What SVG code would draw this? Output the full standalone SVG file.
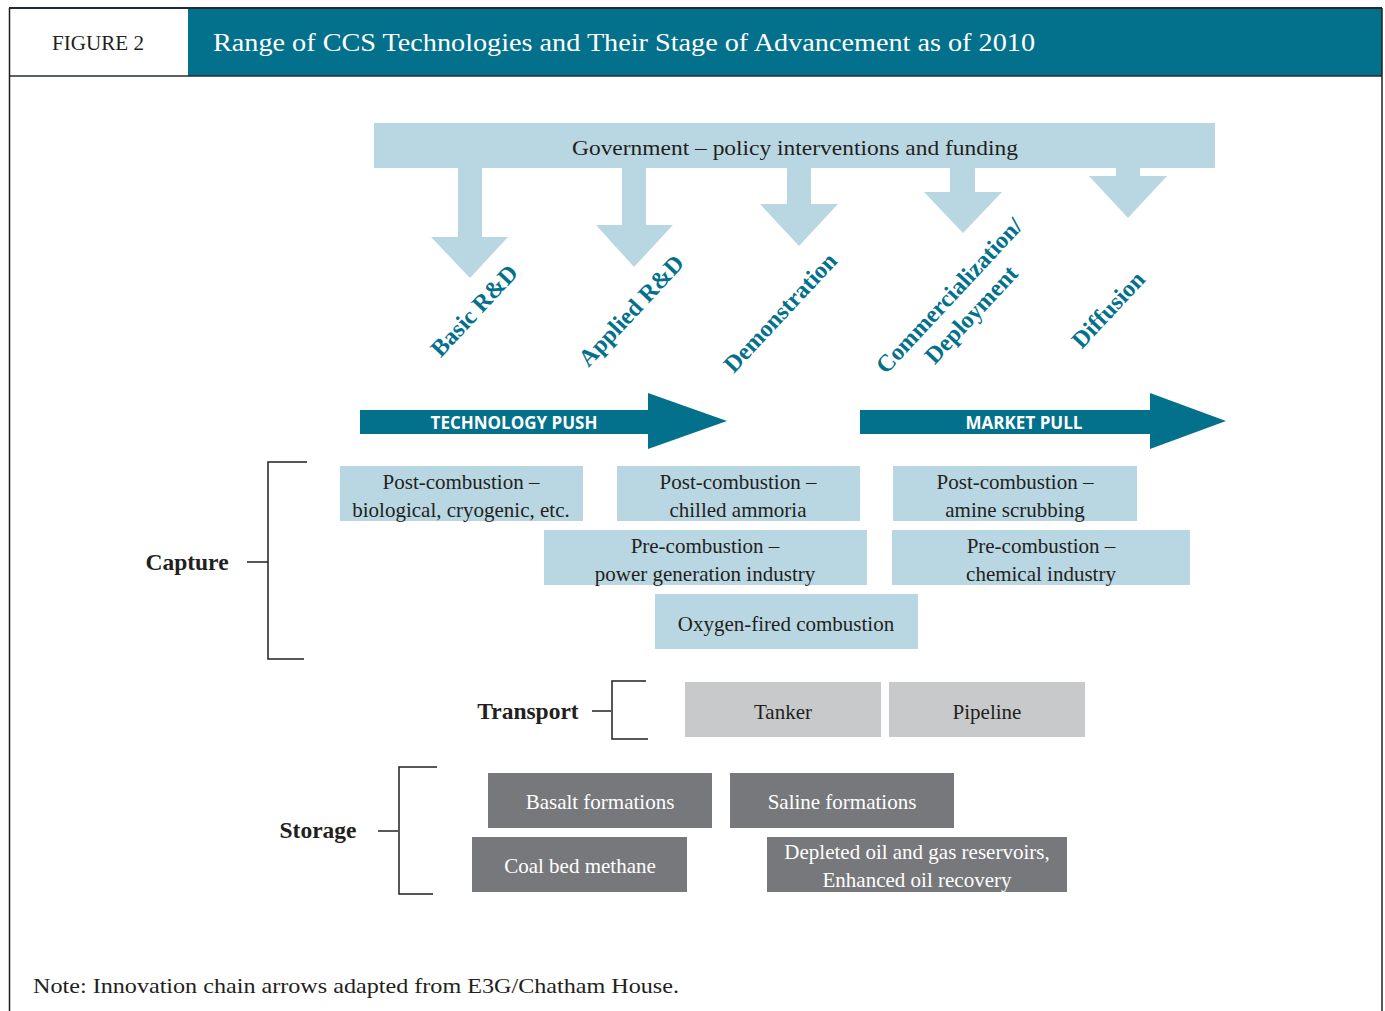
<svg xmlns="http://www.w3.org/2000/svg" width="1385" height="1011" viewBox="0 0 1385 1011">
<style>
.serif{font-family:"Liberation Serif","Times New Roman",serif;}
.box{fill:#b9d7e2;}
.tbox{fill:#c8c9cb;}
.sbox{fill:#77787b;}
.bt{font-family:"Liberation Serif","Times New Roman",serif;font-size:21px;fill:#231f20;text-anchor:middle;}
.wt{font-family:"Liberation Serif","Times New Roman",serif;font-size:21px;fill:#ffffff;text-anchor:middle;}
.stage{font-family:"Liberation Serif","Times New Roman",serif;font-size:24px;font-weight:bold;fill:#03708c;text-anchor:middle;}
.cat{font-family:"Liberation Serif","Times New Roman",serif;font-size:23.5px;font-weight:bold;fill:#231f20;text-anchor:middle;}
.br{fill:none;stroke:#231f20;stroke-width:1.5;}
.gov{fill:#b9d7e2;}
.push{fill:#03708c;}
.pt{font-family:"Open Sans","Liberation Sans",sans-serif;font-size:17px;font-weight:bold;fill:#ffffff;text-anchor:middle;}
</style>
<rect width="1385" height="1011" fill="#ffffff"/>
<g id="frame">
<rect x="188" y="8" width="1194" height="68" fill="#03708c"/>
<line x1="9" y1="8" x2="1382" y2="8" stroke="#1f2d33" stroke-width="2"/>
<line x1="9" y1="76" x2="1382" y2="76" stroke="#1f2d33" stroke-width="1.5"/>
<line x1="9.5" y1="8" x2="9.5" y2="1011" stroke="#231f20" stroke-width="1.5"/>
<line x1="1382" y1="8" x2="1382" y2="1011" stroke="#231f20" stroke-width="1.5"/>
<text x="52" y="50" class="serif" font-size="20" fill="#231f20" textLength="92" lengthAdjust="spacingAndGlyphs">FIGURE 2</text>
<text x="213" y="51" class="serif" font-size="26" fill="#ffffff" textLength="822" lengthAdjust="spacingAndGlyphs">Range of CCS Technologies and Their Stage of Advancement as of 2010</text>
</g>
<g id="government">
<rect x="374" y="123" width="841" height="45" class="gov"/>
<text x="795" y="155" class="bt" font-size="22" textLength="446" lengthAdjust="spacingAndGlyphs">Government – policy interventions and funding</text>
</g>
<g id="connectors">
<polygon class="gov" points="458,168 482,168 482,237 508,237 470,278 431,237 458,237"/>
<polygon class="gov" points="622,168 646,168 646,225 673,225 634,267 596,225 622,225"/>
<polygon class="gov" points="787,168 811,168 811,204 838,204 799,246 760,204 787,204"/>
<polygon class="gov" points="950,168 975,168 975,192 1002,192 963,233 924,192 950,192"/>
<polygon class="gov" points="1116,168 1140,168 1140,176 1167,176 1128,218 1089,176 1116,176"/>
<polygon class="push" points="360,410 648,410 648,393 727,421 648,449 648,434 360,434"/>
<polygon class="push" points="860,410 1150,410 1150,393 1226,421 1150,449 1150,434 860,434"/>
</g>
<g id="stages">
<text class="stage" transform="translate(480,316) rotate(-47)">Basic R&amp;D</text>
<text class="stage" transform="translate(637,316) rotate(-47)">Applied R&amp;D</text>
<text class="stage" transform="translate(786,318) rotate(-47)">Demonstration</text>
<text class="stage" transform="translate(955,301) rotate(-47)">Commercialization/</text>
<text class="stage" transform="translate(977,320) rotate(-47)">Deployment</text>
<text class="stage" transform="translate(1114,315) rotate(-47)">Diffusion</text>
</g>
<g id="tech-push"><text x="514" y="429" class="pt">TECHNOLOGY PUSH</text></g>
<g id="market-pull"><text x="1024" y="429" class="pt">MARKET PULL</text></g>
<g id="capture">
<text x="187" y="570" class="cat">Capture</text>
<line x1="247" y1="562" x2="268" y2="562" class="br"/>
<polyline points="307,462 268,462 268,659 304,659" class="br"/>
</g>
<g id="cap1"><rect x="340" y="466" width="243" height="55" class="box"/><text x="461" y="489" class="bt">Post-combustion –</text><text x="461" y="517" class="bt">biological, cryogenic, etc.</text></g>
<g id="cap2"><rect x="617" y="466" width="243" height="55" class="box"/><text x="738" y="489" class="bt">Post-combustion –</text><text x="738" y="517" class="bt">chilled ammoria</text></g>
<g id="cap3"><rect x="893" y="466" width="244" height="55" class="box"/><text x="1015" y="489" class="bt">Post-combustion –</text><text x="1015" y="517" class="bt">amine scrubbing</text></g>
<g id="cap4"><rect x="544" y="530" width="323" height="55" class="box"/><text x="705" y="553" class="bt">Pre-combustion –</text><text x="705" y="581" class="bt">power generation industry</text></g>
<g id="cap5"><rect x="892" y="530" width="298" height="55" class="box"/><text x="1041" y="553" class="bt">Pre-combustion –</text><text x="1041" y="581" class="bt">chemical industry</text></g>
<g id="cap6"><rect x="655" y="594" width="263" height="55" class="box"/><text x="786" y="631" class="bt">Oxygen-fired combustion</text></g>
<g id="transport">
<text x="528" y="719" class="cat">Transport</text>
<line x1="592" y1="711" x2="611" y2="711" class="br"/>
<polyline points="646,681 612,681 612,739 648,739" class="br"/>
</g>
<g id="tanker"><rect x="685" y="682" width="196" height="55" class="tbox"/><text x="783" y="719" class="bt">Tanker</text></g>
<g id="pipeline"><rect x="889" y="682" width="196" height="55" class="tbox"/><text x="987" y="719" class="bt">Pipeline</text></g>
<g id="storage">
<text x="318" y="838" class="cat">Storage</text>
<line x1="378" y1="831" x2="398" y2="831" class="br"/>
<polyline points="437,767 399,767 399,894 433,894" class="br"/>
</g>
<g id="basalt"><rect x="488" y="773" width="224" height="55" class="sbox"/><text x="600" y="809" class="wt">Basalt formations</text></g>
<g id="saline"><rect x="730" y="773" width="224" height="55" class="sbox"/><text x="842" y="809" class="wt">Saline formations</text></g>
<g id="coalbed"><rect x="472" y="837" width="215" height="55" class="sbox"/><text x="580" y="873" class="wt">Coal bed methane</text></g>
<g id="depleted"><rect x="767" y="837" width="300" height="55" class="sbox"/><text x="917" y="859" class="wt">Depleted oil and gas reservoirs,</text><text x="917" y="887" class="wt">Enhanced oil recovery</text></g>
<g id="note"><text x="33" y="993" class="serif" font-size="21" fill="#231f20" textLength="646" lengthAdjust="spacingAndGlyphs">Note: Innovation chain arrows adapted from E3G/Chatham House.</text></g>
</svg>
